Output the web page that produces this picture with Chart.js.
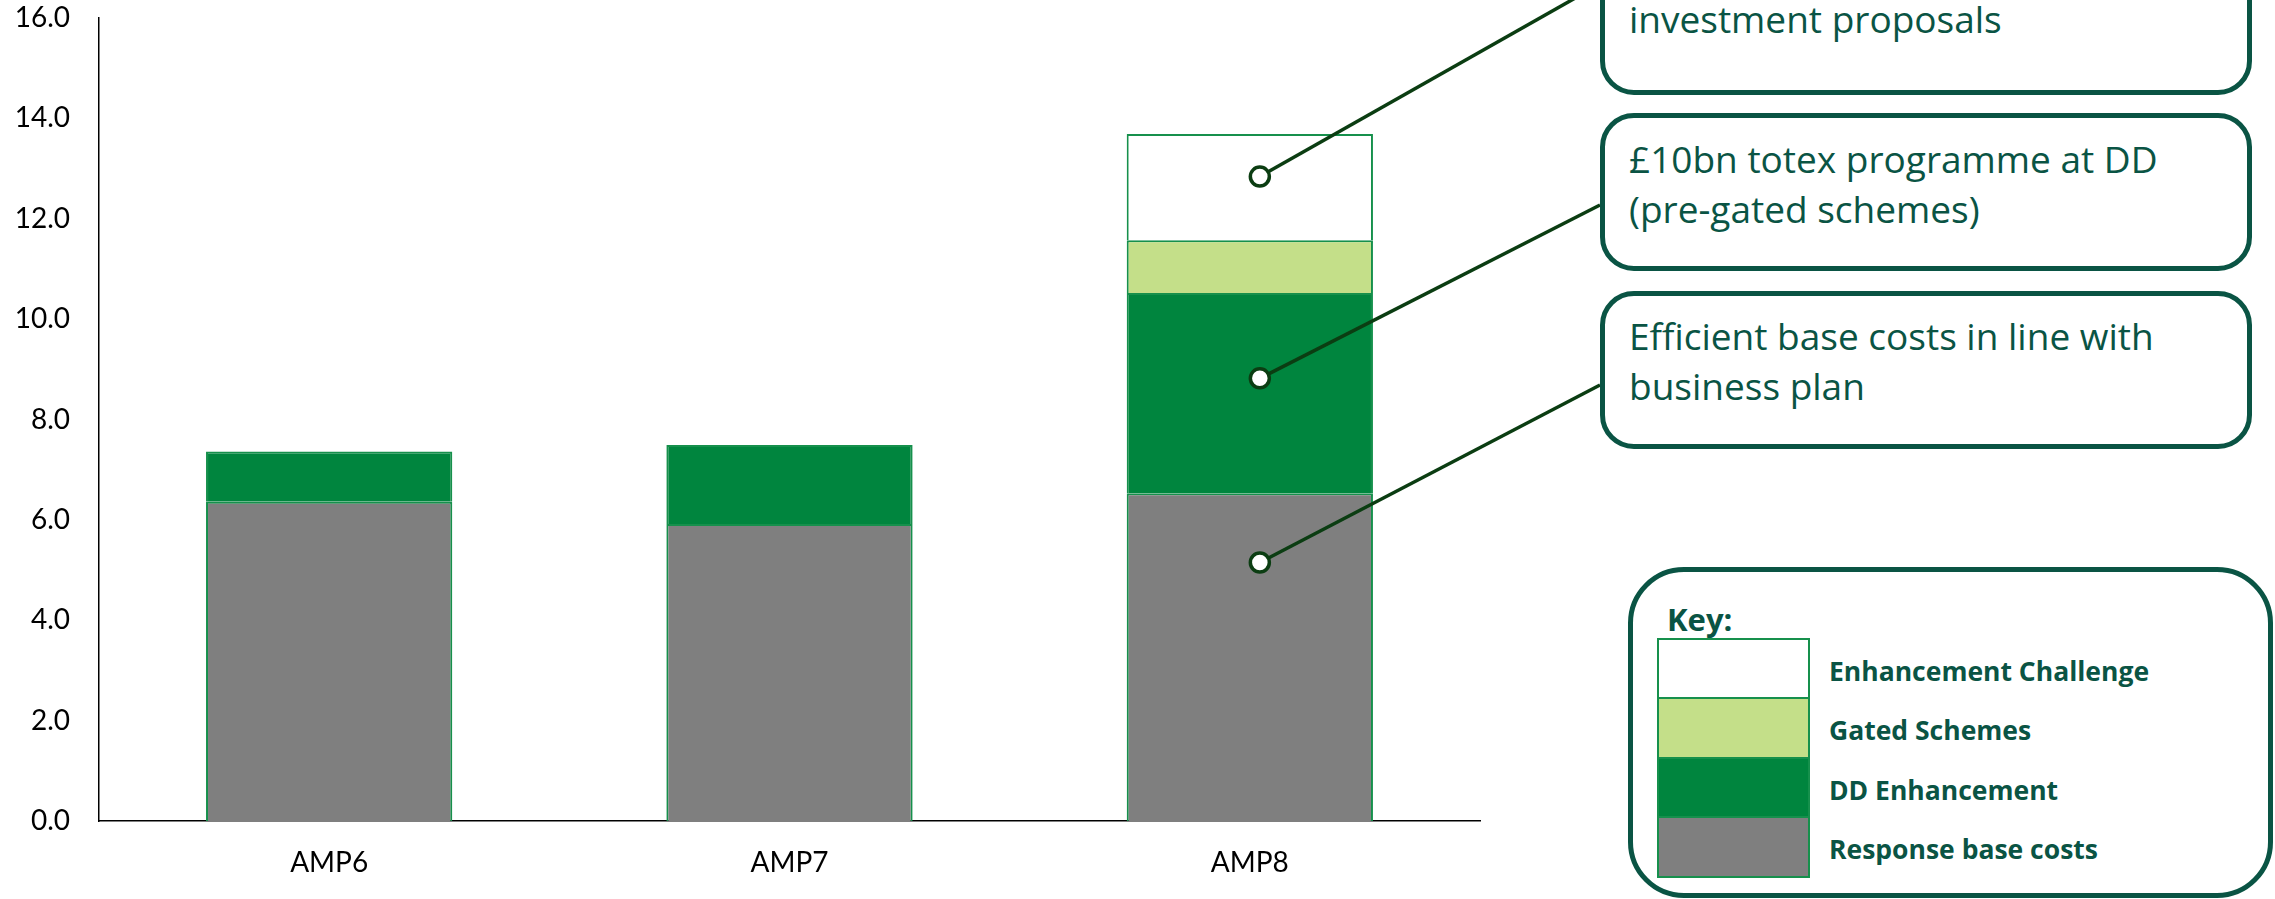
<!DOCTYPE html>
<html>
<head>
<meta charset="utf-8">
<script src="https://cdn.jsdelivr.net/npm/chart.js@4"></script>
<style>
  html, body { margin: 0; padding: 0; background: #fff; overflow: hidden; }
  #wrap { position: relative; width: 2275px; height: 899px; overflow: hidden; font-family: 'Open Sans', Lato, sans-serif; }
  #chart { position: absolute; left: 0; top: 0; }
  .callout {
    position: absolute; left: 1600px; width: 652px; box-sizing: border-box;
    border: 5px solid #0A5444; border-radius: 34px; background: #fff;
    color: #0A5444; font-size: 37px; line-height: 50px; padding-left: 24px; white-space: nowrap;
  }
  #key {
    position: absolute; left: 1628px; top: 567px; width: 645px; height: 331px; box-sizing: border-box;
    border: 5px solid #0A5444; border-radius: 56px; background: #fff;
  }
  .keyTitle { position: absolute; left: 1667px; top: 604px; font-size: 31px; font-weight: 700; color: #0A5444; line-height: 1; }
  .swatch { position: absolute; left: 1657px; width: 153px; height: 62px; box-sizing: border-box; border: 2px solid #16904C; }
  .keyLabel { position: absolute; left: 1829px; font-size: 26.5px; font-weight: 700; color: #0A5444; line-height: 1; white-space: nowrap; }
</style>
</head>
<body>
<div id="wrap">
  <canvas id="chart" width="2275" height="899"></canvas>
  <div class="callout" style="top:-62px; height:157px; padding-top:51px;">investment proposals</div>
  <div class="callout" style="top:113px; height:158px; padding-top:16px;">£10bn totex programme at DD<br>(pre-gated schemes)</div>
  <div class="callout" style="top:291px; height:158px; padding-top:15px;">Efficient base costs in line with<br>business plan</div>
  <div id="key"></div>
  <div class="keyTitle">Key:</div>
</div>
<script>
// £bn by period
const categories = ['AMP6', 'AMP7', 'AMP8'];
const responseBase = [6.36, 5.92, 6.53];
const ddEnhancement = [1.0, 1.57, 3.99];
const gatedSchemes = [null, null, 1.05];
const enhancementChallenge = [null, null, 2.12];

const seriesNames = ['Response base costs', 'DD Enhancement', 'Gated Schemes', 'Enhancement Challenge'];
const seriesColors = ['#7F7F7F', '#00853E', '#C4DF89', '#FFFFFF'];

// y-axis: 0.0 to 16.0 in steps of 2.0
const yMin = 0;
const yMax = 16;
const yStep = 2;

// where the callout markers sit on the AMP8 bar (value axis)
const markerValues = [12.84, 8.82, 5.15];
// where each leader line meets its callout box (page pixels)
const leaderEnds = [[1600, -16], [1600, 205], [1600, 385]];

const seriesData = [responseBase, ddEnhancement, gatedSchemes, enhancementChallenge];

// build the key from the series, top row first
const wrap = document.getElementById('wrap');
const keyOrder = [3, 2, 1, 0];
const keyRowTops = [638, 697, 757, 816];
keyOrder.forEach(function (s, i) {
  const top = keyRowTops[i];
  const sw = document.createElement('div');
  sw.className = 'swatch';
  sw.style.top = top + 'px';
  sw.style.background = seriesColors[s];
  wrap.appendChild(sw);
  const lb = document.createElement('div');
  lb.className = 'keyLabel';
  lb.style.top = (top + 20) + 'px';
  lb.textContent = seriesNames[s];
  wrap.appendChild(lb);
});

const calloutPlugin = {
  id: 'callouts',
  afterDatasetsDraw(chart) {
    const ctx = chart.ctx;
    const x = chart.scales.x.getPixelForValue(2) + 10;
    ctx.save();
    ctx.strokeStyle = '#0B3D12';
    ctx.lineWidth = 3.5;
    markerValues.forEach(function (v, i) {
      const y = chart.scales.y.getPixelForValue(v);
      ctx.beginPath();
      ctx.moveTo(x, y);
      ctx.lineTo(leaderEnds[i][0], leaderEnds[i][1]);
      ctx.stroke();
      ctx.beginPath();
      ctx.arc(x, y, 9.5, 0, Math.PI * 2);
      ctx.fillStyle = '#fff';
      ctx.fill();
      ctx.stroke();
    });
    ctx.restore();
  }
};

const chart = new Chart(document.getElementById('chart'), {
  type: 'bar',
  data: {
    labels: categories,
    datasets: seriesData.map(function (d, i) {
      return {
        label: seriesNames[i],
        data: d,
        backgroundColor: seriesColors[i],
        borderColor: '#16904C',
        borderWidth: 2,
        barPercentage: 0.535,
        categoryPercentage: 1.0
      };
    })
  },
  options: {
    responsive: false,
    animation: false,
    layout: { padding: { top: 18, right: 795, bottom: 0, left: 0 } },
    plugins: { legend: { display: false }, tooltip: { enabled: false } },
    scales: {
      x: {
        stacked: true,
        z: 1,
        grid: { display: false, drawTicks: false },
        border: { display: true, color: '#000', width: 1.5 },
        ticks: { color: '#000', padding: 25, font: { family: 'Lato', size: 28 } },
        afterFit: function (s) { s.height = 78; s.paddingLeft = 0; s.paddingRight = 0; }
      },
      y: {
        stacked: true,
        min: yMin,
        max: yMax,
        grid: { display: false, drawTicks: false },
        border: { display: true, color: '#000', width: 1.5 },
        ticks: {
          stepSize: yStep,
          color: '#000',
          padding: 29,
          font: { family: 'Lato', size: 28 },
          callback: function (v) { return v.toFixed(1); }
        },
        afterFit: function (s) { s.width = 99; s.paddingTop = 0; s.paddingBottom = 0; }
      }
    }
  },
  plugins: [calloutPlugin]
});
</script>
</body>
</html>
